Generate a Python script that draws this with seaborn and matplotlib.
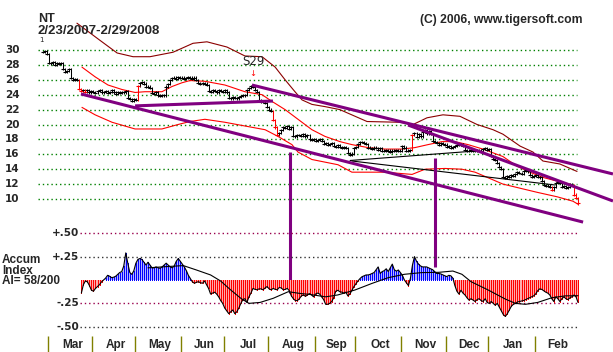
import matplotlib
matplotlib.use('Agg')
import matplotlib.pyplot as plt
import matplotlib.transforms as mtransforms
import numpy as np
import pandas as pd
import seaborn as sns

# ---- values ----
ticker = 'NT'
period = '2/23/2007-2/29/2008'
copyright_txt = '(C) 2006, www.tigersoft.com'
days = pd.bdate_range('2007-02-23', '2008-02-29')

# daily closes, one per trading day
closes = [
    29.7, 29.8, 29.5, 28.3, 28.2, 28.4, 28.0, 28.3, 28.1, 28.3, 27.4, 27.0, 27.2, 27.4, 26.2, 26.0,
    26.1, 26.0, 24.8, 24.5, 24.6, 24.4,
    24.6, 24.3, 24.5, 24.4, 24.2, 24.5, 24.6, 24.3, 24.4, 24.5, 24.2, 24.4, 24.6, 24.3, 24.1, 24.3,
    24.2, 24.4, 24.3, 24.5, 23.6, 23.4, 23.2, 23.4, 23.3,
    25.2, 25.6, 25.7, 25.5, 25.0, 25.1, 24.9, 24.2, 24.1, 24.3, 23.9, 23.8, 24.0, 23.9, 25.1, 25.4,
    26.0, 26.2, 26.3, 26.1, 26.4, 26.2, 26.3,
    26.1, 26.2, 26.4, 26.3, 26.1, 26.3, 26.0, 25.6, 25.4, 25.6, 25.5, 25.3, 24.5, 24.4, 24.6, 24.5,
    24.3, 24.6, 24.5, 24.4, 24.6, 24.3,
    23.6, 23.5, 23.7, 23.6, 23.5, 23.7, 23.8, 23.9, 24.0, 24.6, 24.9, 25.2, 25.1, 24.6, 24.4, 23.3,
    23.0, 23.2, 22.9, 22.4, 22.0,
    21.8, 20.6, 19.6, 18.6, 18.9, 19.3, 19.6, 19.5, 19.8, 19.4, 19.6, 18.5, 18.4, 18.6, 18.6, 18.5,
    18.7, 18.4, 18.6, 18.0, 17.9, 18.0, 17.8,
    17.9, 18.1, 17.8, 17.4, 17.5, 17.3, 17.4, 17.5, 17.1, 17.0, 17.2, 17.0, 16.9, 17.0, 16.8, 16.2,
    15.9, 16.1, 16.8, 17.0,
    17.4, 17.6, 17.7, 17.5, 17.4, 16.9, 16.8, 16.7, 16.9, 16.8, 16.6, 16.8, 16.5, 16.4, 16.6, 16.5,
    16.3, 16.5, 16.4, 16.6, 16.5, 16.4, 17.1,
    16.9, 16.5, 16.4, 16.6, 18.6, 18.9, 18.3, 18.7, 18.4, 19.0, 19.2, 18.8, 19.1, 18.7, 17.8, 17.6,
    17.5, 17.3, 17.5, 17.4, 17.3, 17.0,
    17.1, 16.9, 17.0, 17.1, 17.3, 17.2, 17.3, 17.1, 16.6, 16.4, 16.5, 16.6, 16.4, 16.5, 16.6, 16.4,
    16.5, 16.7, 16.8, 16.6, 16.7,
    15.8, 15.4, 15.2, 14.8, 14.3, 14.0, 13.0, 12.8, 13.1, 13.0, 13.2, 13.1, 13.4, 13.6, 13.5, 13.4,
    13.8, 13.9, 13.7, 13.2, 13.0, 13.1, 13.2,
    13.0, 12.9, 12.4, 11.9, 11.7, 11.8, 11.6, 11.2, 11.6, 12.1, 12.3, 12.2, 11.6, 11.7, 11.5, 11.6,
    12.0, 11.9, 10.6, 10.1, 9.4,
]
red_bars = [18, 19, 21, 47, 114, 115, 116, 183, 252, 263, 264, 265]

# accumulation index, daily from 3/22/2007
ai_first_day = '2007-03-22'
accum = [
    -0.14, -0.05, -0.01, -0.02, -0.06, -0.11, -0.12, -0.09, -0.07, -0.05, -0.02,
    0.00, 0.02, 0.05, 0.04, 0.025, 0.03, 0.04, 0.06, 0.08, 0.09,
    0.15, 0.29, 0.18, 0.08, 0.06, 0.10, 0.18, 0.22, 0.23, 0.22,
    0.19, 0.16, 0.19, 0.16, 0.13, 0.13, 0.14, 0.13, 0.125, 0.14,
    0.16, 0.18, 0.16, 0.14, 0.13, 0.15, 0.20, 0.23, 0.20, 0.17,
    0.14, 0.10, 0.05, 0.015, -0.02, -0.035, -0.025, -0.018, -0.03, -0.035,
    -0.01, -0.05, -0.09, -0.15, -0.14, -0.13, -0.15, -0.18, -0.22, -0.25,
    -0.30, -0.33, -0.36, -0.34, -0.32, -0.36, -0.34, -0.30, -0.25, -0.21,
    -0.20, -0.24, -0.18, -0.14, -0.09, -0.10, -0.105, -0.095, -0.095, -0.105,
    -0.085, -0.07, -0.095, -0.105, -0.09, -0.10, -0.105, -0.08, -0.085, -0.105,
    -0.10, -0.09, -0.115, -0.17, -0.20, -0.22, -0.22, -0.20, -0.17, -0.16,
    -0.175, -0.16, -0.145, -0.16, -0.18, -0.15, -0.14, -0.15, -0.18, -0.21,
    -0.26, -0.26, -0.25, -0.23, -0.19, -0.12, -0.11, -0.125, -0.13, -0.14,
    -0.13, -0.17, -0.15, -0.11, -0.07, -0.04, -0.01, 0.015, 0.035, 0.045,
    0.054, 0.054, 0.06, 0.07, 0.08, 0.11, 0.14, 0.07, 0.09, 0.10,
    0.12, 0.09, 0.13, 0.17, 0.11, 0.095, 0.107, 0.08, 0.05, 0.00,
    -0.03, -0.06, 0.02, 0.16, 0.25, 0.20, 0.17, 0.15, 0.14, 0.14,
    0.14, 0.13, 0.12, 0.11, 0.09, 0.07, 0.07, 0.065, 0.055, 0.045,
    0.036, 0.05, 0.045, 0.02, -0.06, -0.12, -0.15, -0.11, -0.14, -0.16,
    -0.19, -0.215, -0.20, -0.215, -0.23, -0.21, -0.20, -0.22, -0.23, -0.20,
    -0.24, -0.25, -0.23, -0.25, -0.27, -0.25, -0.29, -0.33, -0.37, -0.39,
    -0.36, -0.32, -0.28, -0.26, -0.25, -0.235, -0.23, -0.225, -0.22, -0.21,
    -0.20, -0.19, -0.18, -0.17, -0.15, -0.115, -0.095, -0.10, -0.115, -0.13,
    -0.14, -0.16, -0.20, -0.23, -0.18, -0.20, -0.23, -0.20, -0.18, -0.20,
    -0.21, -0.19, -0.18, -0.16, -0.18, -0.24,
]
ai_label = ['Accum', 'Index', 'AI= 58/200']

# smoothed accum index (x = trading day number)
ai_ma_day = [52, 61, 69.5, 76, 83, 88, 93, 98, 102, 107.5, 114, 121.5, 127, 132, 140, 146, 154.5,
             163, 171, 179, 187.5, 196, 203, 207.5, 212, 220.5, 229, 234, 239, 245, 252, 258.5, 265]
ai_ma = [0.13, 0.143, 0.154, 0.107, 0.054, -0.011, -0.107, -0.196, -0.25, -0.24, -0.196, -0.125,
         -0.143, -0.154, -0.18, -0.16, -0.107, -0.036, 0.025, 0.061, 0.079, 0.082, 0.096, 0.061,
         -0.018, -0.107, -0.204, -0.25, -0.26, -0.24, -0.19, -0.17, -0.168]

# outer (dark red) band
outer_day = [16.8, 28.2, 36.7, 44.6, 53, 64.4, 74.3, 81.2, 91.1, 100, 108.5, 115, 119.9, 124.8,
             128.3, 133.2, 139.7, 147, 160.5, 176.8, 183.3, 190.2, 198.1, 206.5, 215, 222.9,
             227.8, 236.3, 242.7, 247.6, 256, 264.5]
outer_up = [33.6, 31.3, 29.6, 29.1, 29.1, 29.7, 30.9, 31.1, 30.4, 29.2, 29.1, 27.7, 26.0, 24.4,
            23.3, 22.7, 22.4, 22.0, 20.4, 20.3, 20.0, 20.9, 21.3, 21.1, 20.0, 19.3, 18.7, 17.1,
            16.3, 15.1, 14.7, 13.7]

# red bands
band_up_day = [19.3, 25.8, 32.2, 39.1, 45.6, 50.5, 58.9, 63.9, 68.8, 72.8, 80.2, 90.1, 100, 108.5,
               113.4, 119.9, 126.3, 133.2, 139.7, 147.1, 153, 161, 169.4, 177.8, 184.2, 190.7,
               197.6, 204, 210.5, 217.9, 227.8, 234.8, 241.2, 247.6, 254.6, 261]
band_up = [27.7, 26.4, 25.3, 24.7, 24.3, 24.4, 24.4, 25.1, 25.6, 25.9, 25.8, 25.3, 24.4, 24.0,
           23.1, 22.0, 20.7, 19.3, 18.4, 17.7, 17.3, 16.9, 16.7, 16.7, 16.9, 17.3, 17.7, 17.7,
           17.3, 16.7, 15.7, 14.4, 13.6, 12.9, 12.4, 12.0]
band_lo_day = [19.3, 25.8, 34.2, 45.6, 58.9, 66.9, 72.8, 80.2, 90.1, 100, 110, 116.4, 123.3, 126.3,
               133.2, 146.1, 153, 169.4, 182.8, 189.2, 199.1, 207.5, 214, 227.8, 244.7, 254.6,
               262.5, 265]
band_lo = [22.3, 21.3, 20.3, 19.4, 19.4, 20.0, 20.4, 20.7, 20.3, 19.8, 19.3, 18.4, 17.3, 16.3,
           15.3, 14.6, 13.6, 13.6, 13.3, 14.0, 14.1, 14.0, 13.6, 12.0, 10.9, 10.3, 9.7, 9.3]

# hand drawn trend lines: (day, price) end points
purple_lines = [[(18.8, 24.1), (267.5, 6.9)],
                [(45.6, 22.5), (113.9, 23.15)],
                [(103.5, 25.3), (282.3, 13.36)],
                [(180.8, 19.93), (282.3, 9.73)]]
black_lines = [[(152.1, 15.17), (214.0, 16.44)],
               [(153.0, 15.10), (253.6, 11.88)]]
drop_lines = [(122.3, 16.3, -2.6), (194.2, 15.5, 0.9)]   # day, from price, to price
signal_day = 104
signal_txt = 'S29'

price_ticks = [10, 12, 14, 16, 18, 20, 22, 24, 26, 28, 30]
ai_ticks = [0.50, 0.25, -0.25, -0.50]
ai_tick_labels = ['+.50', '+.25', '-.25', '-.50']
ai_grid_colors = ['#99004d', '#333333', '#99004d', '#333333']
month_labels = ['Mar', 'Apr', 'May', 'Jun', 'Jul', 'Aug', 'Sep', 'Oct', 'Nov', 'Dec', 'Jan', 'Feb']

# ---- layout (pixels of the 613x352 picture) ----
W, H = 613, 352
X0, PXB = 43, 2.019          # first bar, px per bar
P30_Y, PXP = 50, 7.45        # y of the 30 line, px per dollar
AI0_Y, PXA = 280, 93.5       # y of the zero line, px per unit

sns.set_style('white')
plt.rcParams['font.family'] = ['DejaVu Sans']

fig = plt.figure(figsize=(W / 100, H / 100), dpi=100)
ax = fig.add_axes([0, 0, 1, 1])
ax2 = fig.add_axes([0, 0, 1, 1], sharex=ax)
for a in (ax, ax2):
    a.set_facecolor('none')
    a.axis('off')
ax.set_xlim(-X0 / PXB, (W - X0) / PXB)
ax.set_ylim(30 - (H - P30_Y) / PXP, 30 + P30_Y / PXP)
ax2.set_ylim(-(H - AI0_Y) / PXA, AI0_Y / PXA)


def bar_at(px):
    return (px - X0) / PXB


trans_p = mtransforms.blended_transform_factory(fig.transFigure, ax.transData)
trans_a = mtransforms.blended_transform_factory(fig.transFigure, ax2.transData)
trans_m = mtransforms.blended_transform_factory(ax2.transData, fig.transFigure)

# price grid + labels
ax.hlines(price_ticks, bar_at(38), bar_at(577), colors='#008000', lw=1, linestyles=(0, (1, 2.1)), zorder=1)
for p in price_ticks:
    ax.text(5 / W, p, str(p), transform=trans_p, ha='left', va='center',
            fontsize=7.5, fontweight='bold')

# price bars
n = len(closes)
x = np.arange(n)
c = np.array(closes)
prev = np.r_[c[0], c[:-1]]
lo = np.minimum(prev, c) - 0.15
hi = np.maximum(prev, c) + 0.15
is_red = np.isin(x, red_bars)
for mask, col in ((~is_red, 'black'), (is_red, 'red')):
    ax.vlines(x[mask], lo[mask], hi[mask], colors=col, lw=0.75, zorder=4)
    ax.scatter(x[mask], c[mask], marker='_', s=6, color=col, linewidths=0.8, zorder=4)

# bands
sns.lineplot(x=outer_day, y=outer_up, ax=ax, color='#8b0000', lw=0.8, estimator=None, sort=False, zorder=3)
sns.lineplot(x=band_up_day, y=band_up, ax=ax, color='red', lw=0.8, estimator=None, sort=False, zorder=3)
sns.lineplot(x=band_lo_day, y=band_lo, ax=ax, color='red', lw=0.8, estimator=None, sort=False, zorder=3)

for (x0, y0), (x1, y1) in black_lines:
    ax.plot([x0, x1], [y0, y1], color='black', lw=0.8, zorder=3)
for (x0, y0), (x1, y1) in purple_lines:
    ax.plot([x0, x1], [y0, y1], color='#800080', lw=2.2, zorder=5, solid_capstyle='butt')
for d, p0, p1 in drop_lines:
    ax.vlines(d, p1, p0, colors='#800080', lw=2.2, zorder=5)

# signal
ax.text(signal_day, closes[signal_day - 1] + 3.2, signal_txt, ha='center', va='center', fontsize=8.5)
ax.text(signal_day, closes[signal_day - 1] + 1.6, '\u2193', ha='center', va='center',
        fontsize=6, color='red')

# accum index
ai = np.array(accum)
start = days.get_loc(pd.Timestamp(ai_first_day))
xa = np.arange(start, start + len(ai))
ax2.hlines(ai_ticks, bar_at(80), bar_at(577), colors=ai_grid_colors, lw=1, linestyles=(0, (1, 2.1)), zorder=1)
for v, lab in zip(ai_ticks, ai_tick_labels):
    ax2.text(79 / W, v, lab, transform=trans_a, ha='right', va='center', fontsize=7.5, fontweight='bold')
pos_ai = ai > 0
# light tint under the day bars keeps the hatching readable as red / blue
ax2.fill_between(xa, 0, ai, where=pos_ai, interpolate=True, color='#b4b4ff', lw=0, zorder=1.5)
ax2.fill_between(xa, 0, ai, where=~pos_ai, interpolate=True, color='#ffaaaa', lw=0, zorder=1.5)
ax2.vlines(xa[pos_ai], 0, ai[pos_ai], colors='#0000ff', lw=0.72, antialiased=False, zorder=2)
ax2.vlines(xa[~pos_ai], 0, ai[~pos_ai], colors='#ff0000', lw=0.72, antialiased=False, zorder=2)
sns.lineplot(x=xa, y=ai, ax=ax2, color='black', lw=0.8, estimator=None, zorder=3)
sns.lineplot(x=ai_ma_day, y=ai_ma, ax=ax2, color='black', lw=0.8, estimator=None, sort=False, zorder=3)
for k, line in enumerate(ai_label):
    fig.text(2 / W, 1 - (254 + 10.5 * k) / H, line, ha='left', va='top', fontsize=8.5,
             fontweight='bold', family='Liberation Sans')

# months
month_id = days.to_period('M')
months = month_id.unique()[1:]
for m, lab in zip(months, month_labels):
    pos = np.where(month_id == m)[0]
    ax2.vlines(pos[0] - 1.5, -(336 - AI0_Y) / PXA, -(H - AI0_Y) / PXA, colors='#808000', lw=1)
    ax2.text(pos.mean(), 1 - 339 / H, lab, transform=trans_m, ha='center', va='top',
             fontsize=8.5, fontweight='bold', family='Liberation Sans')

# header
fig.text(38 / W, 1 - 13 / H, ticker, ha='left', va='top', fontsize=9, fontweight='bold', family='Liberation Sans')
fig.text(38 / W, 1 - 25 / H, period, ha='left', va='top', fontsize=9.5, fontweight='bold', family='Liberation Sans')
fig.text(39 / W, 1 - 37 / H, '1', ha='left', va='top', fontsize=5)
fig.text(420 / W, 1 - 14 / H, copyright_txt, ha='left', va='top', fontsize=8.7, fontweight='bold',
         family='Liberation Sans')

fig.savefig('out.png', dpi=100)
